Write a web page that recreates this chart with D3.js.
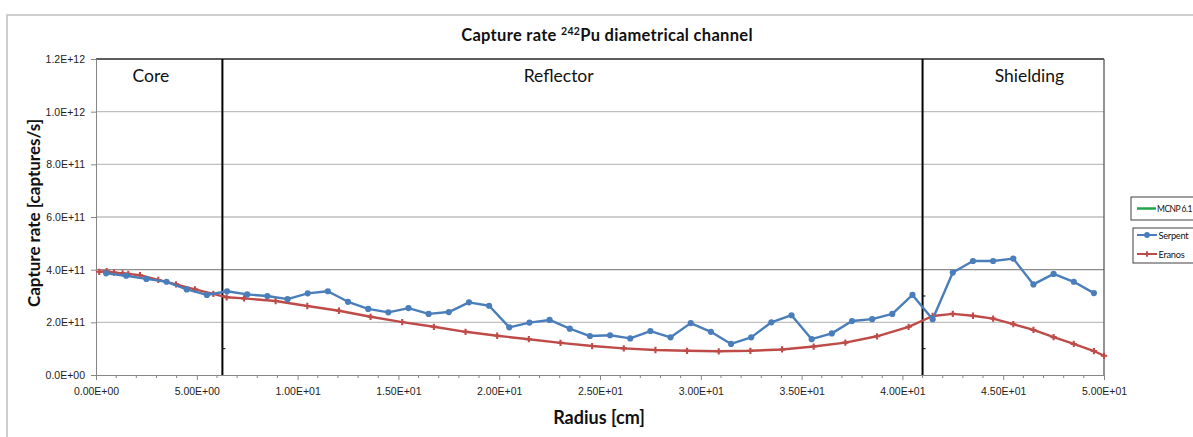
<!DOCTYPE html>
<html>
<head>
<meta charset="utf-8">
<script src="https://cdn.jsdelivr.net/npm/d3@7"></script>
<style>
  body { margin: 0; background: #fff; }
  svg { display: block; font-family: Lato, "Open Sans", sans-serif; }
</style>
</head>
<body>
<div id="chart"></div>
<script>
// radius [cm] and capture rate [captures/s]
let serpentR = [0.5, 1.5, 2.5, 3.5, 4.5, 5.5, 6.5, 7.5, 8.5, 9.5,
    10.5, 11.5, 12.5, 13.5, 14.5, 15.5, 16.5, 17.5, 18.5, 19.5,
    20.5, 21.5, 22.5, 23.5, 24.5, 25.5, 26.5, 27.5, 28.5, 29.5,
    30.5, 31.5, 32.5, 33.5, 34.5, 35.5, 36.5, 37.5, 38.5, 39.5,
    40.5, 41.5, 42.5, 43.5, 44.5, 45.5, 46.5, 47.5, 48.5, 49.5];
let serpentRate = [3.86e11, 3.77e11, 3.65e11, 3.54e11, 3.25e11, 3.04e11, 3.18e11, 3.06e11, 3.00e11, 2.88e11,
    3.10e11, 3.18e11, 2.78e11, 2.51e11, 2.38e11, 2.54e11, 2.32e11, 2.39e11, 2.76e11, 2.63e11,
    1.81e11, 1.99e11, 2.09e11, 1.76e11, 1.48e11, 1.51e11, 1.39e11, 1.67e11, 1.43e11, 1.97e11,
    1.64e11, 1.18e11, 1.43e11, 2.00e11, 2.27e11, 1.36e11, 1.58e11, 2.05e11, 2.12e11, 2.32e11,
    3.04e11, 2.12e11, 3.89e11, 4.33e11, 4.33e11, 4.42e11, 3.44e11, 3.84e11, 3.54e11, 3.11e11];

let eranosR = [0.16, 0.53, 0.89, 1.32, 1.6, 2.18, 3.09, 3.97, 4.91, 5.82,
    6.48, 7.34, 8.91, 10.48, 12.05, 13.62, 15.19, 16.76, 18.33, 19.9,
    21.47, 23.04, 24.61, 26.18, 27.75, 29.32, 30.89, 32.46, 34.03, 35.6,
    37.17, 38.74, 40.31, 41.5, 42.5, 43.5, 44.5, 45.5, 46.5, 47.5,
    48.5, 49.5, 50];
let eranosRate = [3.92e11, 3.94e11, 3.89e11, 3.86e11, 3.84e11, 3.79e11, 3.61e11, 3.44e11, 3.25e11, 3.08e11,
    2.95e11, 2.91e11, 2.81e11, 2.62e11, 2.44e11, 2.21e11, 2.01e11, 1.83e11, 1.64e11, 1.49e11,
    1.36e11, 1.22e11, 1.10e11, 1.01e11, 0.95e11, 0.92e11, 0.90e11, 0.92e11, 0.97e11, 1.08e11,
    1.23e11, 1.47e11, 1.83e11, 2.24e11, 2.32e11, 2.25e11, 2.14e11, 1.93e11, 1.71e11, 1.44e11,
    1.18e11, 0.91e11, 0.73e11];

let xTicks = [0, 5, 10, 15, 20, 25, 30, 35, 40, 45, 50];
let yTicks = [0, 2e11, 4e11, 6e11, 8e11, 1e12, 1.2e12];

// region boundaries [cm] and region label positions [cm]
let boundaries = [6.27, 41.0];
let regionNames = ["Core", "Reflector", "Shielding"];
let regionLabelR = [2.72, 22.95, 46.3];

let legendNames = ["MCNP 6.1", "Serpent", "Eranos"];
let legendColors = ["#1fa64a", "#4a7ebb", "#be4b48"];

function sci(v, digits) {
    if (v === 0) return (0).toFixed(digits) + "E+00";
    let e = Math.floor(Math.log10(Math.abs(v)) + 1e-9);
    let m = v / Math.pow(10, e);
    let es = (e < 0 ? "-" : "+") + (Math.abs(e) < 10 ? "0" : "") + Math.abs(e);
    return m.toFixed(digits) + "E" + es;
}

function renderChart(element, width, height) {
    let margin = {top: 59, right: width - 1104, bottom: height - 375, left: 96};
    let w = width - margin.left - margin.right,
        h = height - margin.top - margin.bottom;

    let svg = d3.select(element).append("svg")
        .attr("width", width)
        .attr("height", height);

    svg.append("rect").attr("width", width).attr("height", height).attr("fill", "#fff");

    // outer chart border
    svg.append("rect")
        .attr("x", 7).attr("y", 15)
        .attr("width", width + 20).attr("height", height + 20)
        .attr("fill", "none")
        .attr("stroke", "#bfbfbf")
        .attr("stroke-width", 1.5);

    let x = d3.scaleLinear().domain([0, 50]).range([0, w]);
    let y = d3.scaleLinear().domain([0, 1.2e12]).range([h, 0]);

    let g = svg.append("g").attr("transform", "translate(" + margin.left + "," + margin.top + ")");

    // grid
    g.append("g").selectAll("line")
        .data(yTicks.slice(1))
        .enter().append("line")
        .attr("x1", 0).attr("x2", w)
        .attr("y1", function(d) { return y(d); })
        .attr("y2", function(d) { return y(d); })
        .attr("stroke", function(d) { return d === 4e11 ? "#8c8c8c" : (d === 1.2e12 ? "#262626" : "#bfbfbf"); })
        .attr("stroke-width", function(d) { return d === 1.2e12 ? 1.5 : 1.3; });

    // right border
    g.append("line")
        .attr("x1", w).attr("x2", w).attr("y1", 0).attr("y2", h)
        .attr("stroke", "#595959").attr("stroke-width", 1.3);

    // y axis
    let yAxis = g.append("g")
        .call(d3.axisLeft(y).tickValues(yTicks).tickSize(5).tickFormat(function(d) { return sci(d, 1); }));
    yAxis.select(".domain").attr("stroke", "#868686");
    yAxis.selectAll(".tick line").attr("stroke", "#868686");
    yAxis.selectAll("text")
        .attr("font-size", 10.5)
        .attr("fill", "#222")
        .attr("x", -11);

    // x axis
    let xAxis = g.append("g")
        .attr("transform", "translate(0," + h + ")")
        .call(d3.axisBottom(x).tickValues(xTicks).tickSize(5).tickFormat(function(d) { return sci(d, 2); }));
    xAxis.select(".domain").attr("stroke", "#868686");
    xAxis.selectAll(".tick line").attr("stroke", "#868686");
    xAxis.selectAll("text")
        .attr("font-size", 10.5)
        .attr("fill", "#222")
        .attr("y", 13);

    g.append("g").selectAll("line")
        .data(d3.range(0, 51).filter(function(d) { return d % 5 !== 0; }))
        .enter().append("line")
        .attr("x1", function(d) { return x(d); })
        .attr("x2", function(d) { return x(d); })
        .attr("y1", h).attr("y2", h + 3)
        .attr("stroke", "#868686");

    // region boundaries
    let bnd = g.append("g").selectAll("g")
        .data(boundaries)
        .enter().append("g")
        .attr("transform", function(d) { return "translate(" + x(d) + ",0)"; });
    bnd.append("line")
        .attr("y1", 0).attr("y2", h)
        .attr("stroke", "#000").attr("stroke-width", 2);
    bnd.selectAll(".mt")
        .data([1e11, 3e11])
        .enter().append("line")
        .attr("class", "mt")
        .attr("x1", 0).attr("x2", 3)
        .attr("y1", function(d) { return y(d); })
        .attr("y2", function(d) { return y(d); })
        .attr("stroke", "#000");

    g.append("g").selectAll("text")
        .data(regionNames)
        .enter().append("text")
        .attr("x", function(d, i) { return x(regionLabelR[i]); })
        .attr("y", 23)
        .attr("text-anchor", "middle")
        .attr("font-size", 17.5)
        .attr("fill", "#111")
        .text(function(d) { return d; });

    // series
    let series = [
        {r: eranosR, v: eranosRate, color: legendColors[2], mark: "cross"},
        {r: serpentR, v: serpentRate, color: legendColors[1], mark: "circle"}
    ];

    let line = d3.line()
        .x(function(d) { return x(d[0]); })
        .y(function(d) { return y(d[1]); });

    series.forEach(function(s) {
        let pts = d3.zip(s.r, s.v);
        g.append("path")
            .datum(pts)
            .attr("d", line)
            .attr("fill", "none")
            .attr("stroke", s.color)
            .attr("stroke-width", 2.4)
            .attr("stroke-linejoin", "round");
        let sym = d3.symbol().type(s.mark === "circle" ? d3.symbolCircle : d3.symbolCross).size(s.mark === "circle" ? 30 : 22);
        g.append("g").selectAll("path")
            .data(pts)
            .enter().append("path")
            .attr("transform", function(d) { return "translate(" + x(d[0]) + "," + y(d[1]) + ")"; })
            .attr("d", sym)
            .attr("fill", s.color);
    });

    // titles
    let title = svg.append("text")
        .attr("x", 607).attr("y", 41)
        .attr("text-anchor", "middle")
        .attr("font-size", 16.5)
        .attr("letter-spacing", 0.3)
        .attr("font-weight", "bold")
        .attr("fill", "#111");
    title.append("tspan").text("Capture rate ");
    title.append("tspan").attr("font-size", 10.5).attr("dy", -6).text("242");
    title.append("tspan").attr("dy", 6).text("Pu diametrical channel");

    svg.append("text")
        .attr("transform", "translate(40," + (margin.top + h / 2 - 4) + ") rotate(-90)")
        .attr("text-anchor", "middle")
        .attr("font-size", 17)
        .attr("font-weight", "bold")
        .attr("fill", "#111")
        .text("Capture rate [captures/s]");

    svg.append("text")
        .attr("x", 599).attr("y", 424)
        .attr("text-anchor", "middle")
        .attr("font-size", 18)
        .attr("font-weight", "bold")
        .attr("fill", "#111")
        .text("Radius [cm]");

    // legend (two boxes, running off the right edge like the original)
    let lg1 = svg.append("g").attr("transform", "translate(1131,197)");
    lg1.append("rect").attr("width", 100).attr("height", 23)
        .attr("fill", "#fff").attr("stroke", "#404040");
    lg1.append("line").attr("x1", 6).attr("x2", 25).attr("y1", 11.5).attr("y2", 11.5)
        .attr("stroke", legendColors[0]).attr("stroke-width", 2.5);
    lg1.append("text").attr("x", 26).attr("y", 15).attr("font-size", 8.5)
        .attr("letter-spacing", -0.5).attr("fill", "#111").text(legendNames[0]);

    let lg2 = svg.append("g").attr("transform", "translate(1133,228)");
    lg2.append("rect").attr("width", 100).attr("height", 35)
        .attr("fill", "#fff").attr("stroke", "#404040");
    let items = lg2.selectAll(".item")
        .data([1, 2])
        .enter().append("g")
        .attr("class", "item")
        .attr("transform", function(d, i) { return "translate(0," + (7 + i * 19) + ")"; });
    items.append("line").attr("x1", 4).attr("x2", 24)
        .attr("stroke", function(d) { return legendColors[d]; }).attr("stroke-width", 2);
    items.append("path")
        .attr("transform", "translate(14,0)")
        .attr("d", function(d) { return d3.symbol().type(d === 1 ? d3.symbolCircle : d3.symbolCross).size(d === 1 ? 26 : 18)(); })
        .attr("fill", function(d) { return legendColors[d]; });
    items.append("text").attr("x", 25.5).attr("y", 3.5).attr("font-size", 9.3)
        .attr("letter-spacing", -0.3)
        .attr("fill", "#111").text(function(d) { return legendNames[d]; });
}

renderChart("#chart", 1193, 437);
</script>
</body>
</html>
